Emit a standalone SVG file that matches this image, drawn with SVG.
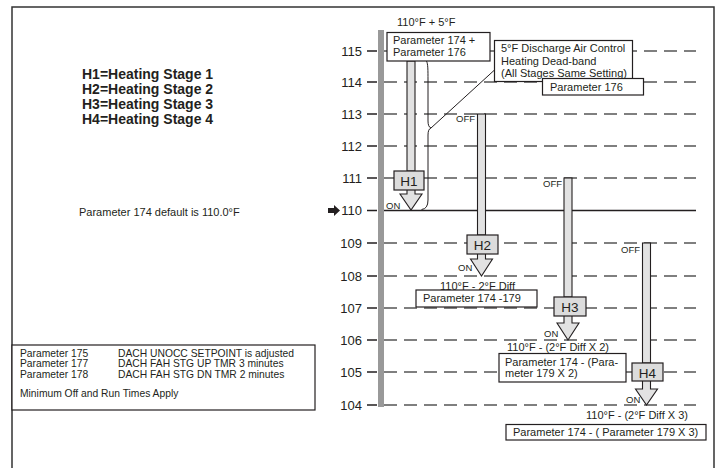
<svg xmlns="http://www.w3.org/2000/svg" width="719" height="468" viewBox="0 0 719 468">
<style>
text{font-family:"Liberation Sans",Arial,sans-serif;fill:#231f20}
.t11{font-size:11px}
.tb{font-size:10.3px}
.tick{font-size:13px;text-anchor:end}
.sm{font-size:9.5px}
.smr{font-size:9.5px;text-anchor:end}
.lg{font-size:14px;font-weight:bold}
.hl{font-size:13.5px;text-anchor:middle}
.box{fill:#fff;stroke:#231f20;stroke-width:1.2}
.dash{stroke:#555;stroke-width:1.3;stroke-dasharray:13 7;fill:none}
.tk{stroke:#231f20;stroke-width:1.3}
.bar{fill:#e2e2e2;stroke:#231f20;stroke-width:1.1}
.hb{fill:#dcdcdc;stroke:#231f20;stroke-width:1.2}
</style>
<g id="frame">
<path d="M12 468 L12 7 L714 7 L714 468" fill="none" stroke="#333" stroke-width="1.5"/>
</g>
<g id="legend">
<text class="lg" x="82" y="79">H1=Heating Stage 1</text>
<text class="lg" x="82" y="94">H2=Heating Stage 2</text>
<text class="lg" x="82" y="108.5">H3=Heating Stage 3</text>
<text class="lg" x="82" y="123.5">H4=Heating Stage 4</text>
</g>
<g id="default-note">
<text class="t11" x="79" y="216">Parameter 174 default is 110.0°F</text>
<path d="M328 208 L334 208 L334 205 L340 210.5 L334 216 L334 213 L328 213 Z" fill="#231f20"/>
</g>
<g id="param-table">
<rect class="box" x="12" y="345" width="303" height="65"/>
<text class="tb" x="20" y="356.5">Parameter 175</text>
<text class="tb" x="118" y="356.5">DACH UNOCC SETPOINT is adjusted</text>
<text class="tb" x="20" y="367">Parameter 177</text>
<text class="tb" x="118" y="367">DACH FAH STG UP TMR 3 minutes</text>
<text class="tb" x="20" y="377.5">Parameter 178</text>
<text class="tb" x="118" y="377.5">DACH FAH STG DN TMR 2 minutes</text>
<text class="tb" x="20" y="397">Minimum Off and Run Times Apply</text>
</g>
<g id="axis">
<path class="dash" d="M384 51H696M384 82H696M384 114H696M384 146H696M384 178H696M384 243H696M384 276H696M384 308H696M384 340H696M384 372H696M384 405H696"/>
<path d="M384 210.5H696" stroke="#231f20" stroke-width="1.3"/>
<path class="tk" d="M367 51H377M367 82H377M367 114H377M367 146H377M367 178H377M367 210.5H377M367 243H377M367 276H377M367 308H377M367 340H377M367 372H377M367 405H377"/>
<rect x="378" y="30" width="6" height="377" fill="#999"/>
<text class="tick" x="362" y="55.5">115</text>
<text class="tick" x="362" y="86.5">114</text>
<text class="tick" x="362" y="118.5">113</text>
<text class="tick" x="362" y="150.5">112</text>
<text class="tick" x="362" y="182.5">111</text>
<text class="tick" x="362" y="215">110</text>
<text class="tick" x="362" y="247.5">109</text>
<text class="tick" x="362" y="280.5">108</text>
<text class="tick" x="362" y="312.5">107</text>
<text class="tick" x="362" y="344.5">106</text>
<text class="tick" x="362" y="376.5">105</text>
<text class="tick" x="362" y="409.5">104</text>
</g>
<g id="H1">
<rect class="bar" x="407" y="61" width="8" height="110"/>
<path class="bar" d="M407 190 L407 194 L400 194 L411 210 L422 194 L415 194 L415 190"/>
<rect class="hb" x="394" y="171" width="30" height="19"/>
<text class="hl" x="409" y="186">H1</text>
<text class="sm" x="386" y="209">ON</text>
</g>
<g id="H2">
<rect class="bar" x="477.5" y="114" width="8" height="121"/>
<path class="bar" d="M477.5 254 L477.5 259 L470.5 259 L481.5 276 L492.5 259 L485.5 259 L485.5 254"/>
<rect class="hb" x="467" y="235" width="31" height="19"/>
<text class="hl" x="482.5" y="250">H2</text>
<text class="smr" x="475" y="121.5">OFF</text>
<text class="sm" x="458" y="270.5">ON</text>
</g>
<g id="H3">
<rect class="bar" x="564" y="178" width="8" height="119"/>
<path class="bar" d="M564 316 L564 323 L557 323 L568 340 L579 323 L572 323 L572 316"/>
<rect class="hb" x="554" y="297" width="32" height="19"/>
<text class="hl" x="570" y="312">H3</text>
<text class="smr" x="562" y="186.5">OFF</text>
<text class="sm" x="544" y="336.5">ON</text>
</g>
<g id="H4">
<rect class="bar" x="642.5" y="243" width="8" height="120"/>
<path class="bar" d="M642.5 381 L642.5 389 L635.5 389 L646.5 405 L657.5 389 L650.5 389 L650.5 381"/>
<rect class="hb" x="632" y="363" width="31" height="18"/>
<text class="hl" x="647.5" y="377.5">H4</text>
<text class="smr" x="640" y="252.5">OFF</text>
<text class="sm" x="626" y="402.5">ON</text>
</g>
<g id="connectors">
<path d="M426.5 61 C428 64 428 70 428 80 L428 121 Q428 127 431 128 Q428 129 428 135 L428 200 Q428 209 421.5 209.5" fill="none" stroke="#231f20" stroke-width="1"/>
<path d="M494.5 70 L431 128" fill="none" stroke="#231f20" stroke-width="1"/>
</g>
<g id="upper-label">
<text class="t11" x="397" y="26">110°F + 5°F</text>
<rect class="box" x="387" y="32.5" width="103" height="28.5"/>
<text class="t11" x="393" y="44">Parameter 174 +</text>
<text class="t11" x="393" y="55.5">Parameter 176</text>
</g>
<g id="deadband-note">
<rect class="box" x="494.5" y="40.5" width="138" height="41"/>
<text class="t11" x="501" y="52">5°F Discharge Air Control</text>
<text class="t11" x="501" y="64.5">Heating Dead-band</text>
<text class="t11" x="501" y="77">(All Stages Same Setting)</text>
</g>
<g id="param176">
<rect class="box" x="542.5" y="78.5" width="101" height="16.5"/>
<text class="t11" x="550" y="90.5">Parameter 176</text>
</g>
<g id="H2-label">
<text class="t11" x="440" y="289.5">110°F - 2°F Diff</text>
<rect class="box" x="416" y="290" width="121" height="17"/>
<text class="t11" x="423" y="302">Parameter 174 -179</text>
</g>
<g id="H3-label">
<text class="t11" x="507" y="351">110°F - (2°F Diff X 2)</text>
<rect class="box" x="499" y="353.5" width="127" height="28.5"/>
<text class="t11" x="505" y="365.5">Parameter 174 - (Para-</text>
<text class="t11" x="505" y="377">meter 179 X 2)</text>
</g>
<g id="H4-label">
<text class="t11" x="586" y="419">110°F - (2°F Diff X 3)</text>
<rect class="box" x="506" y="424.5" width="200" height="15.5"/>
<text class="t11" x="513" y="436">Parameter 174 - ( Parameter 179 X 3)</text>
</g>
</svg>
